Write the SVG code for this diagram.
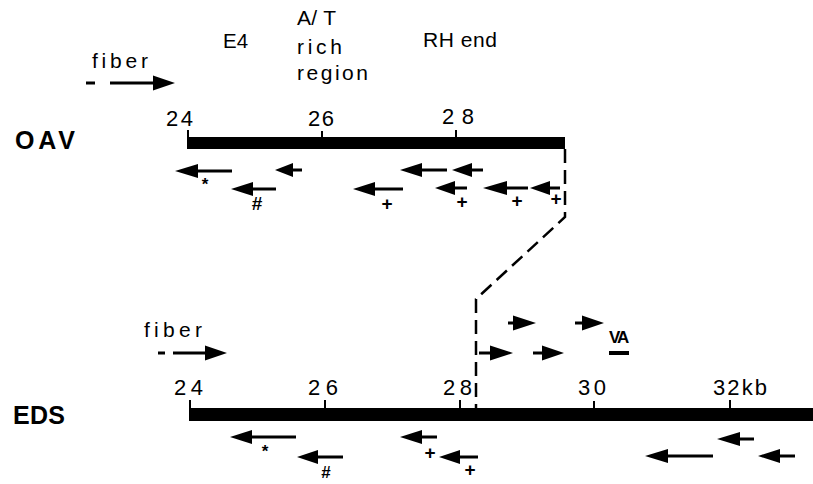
<svg xmlns="http://www.w3.org/2000/svg" width="813" height="484" viewBox="0 0 813 484">
<style>
text{font-family:"Liberation Sans",Arial,sans-serif;fill:#000}
.lbl{font-size:25px;font-weight:bold}
.num{font-size:22px}
.hdr{font-size:21px}
.mk{font-size:19px;font-weight:bold;text-anchor:middle}
.ast{font-size:17px;font-weight:bold;text-anchor:middle}
.bar{fill:#000}
.tick{stroke:#000;stroke-width:2;fill:none}
.sh{stroke:#000;stroke-width:3;fill:none}
.hd{fill:#000}
.conn{stroke:#000;stroke-width:2.5;fill:none;stroke-dasharray:14 7}
</style>
<rect width="813" height="484" fill="#fff"/>

<g id="header">
<text class="hdr" x="223" y="48" textLength="25" lengthAdjust="spacingAndGlyphs">E4</text>
<text class="hdr" x="297" y="25" textLength="39" lengthAdjust="spacing">A/ T</text>
<text class="hdr" x="297" y="54" textLength="45" lengthAdjust="spacing">rich</text>
<text class="hdr" x="297" y="80" textLength="71" lengthAdjust="spacing">region</text>
<text class="hdr" x="423" y="47" textLength="74" lengthAdjust="spacing">RH end</text>
</g>

<g id="oav-fiber">
<text class="hdr" x="92" y="68" textLength="56" lengthAdjust="spacing">fiber</text>
<path class="sh" d="M86,83 H95 M110,83 H155"/>
<polygon class="hd" points="175,83 153,75.5 153,90.5"/>
</g>

<g id="oav">
<text class="lbl" x="15" y="149" textLength="60" lengthAdjust="spacing">OAV</text>
<rect class="bar" x="187" y="137" width="378" height="12"/>
<path class="tick" d="M188,130 V138 M322,131 V138 M456,130 V138"/>
<text class="num" x="166" y="126" textLength="27" lengthAdjust="spacing">24</text>
<text class="num" x="308" y="126" textLength="26" lengthAdjust="spacing">26</text>
<text class="num" x="442" y="124" textLength="32" lengthAdjust="spacing">28</text>
</g>

<g id="oav-arrows">
<path class="sh" d="M196,171 H232 M291,170 H302 M251,189 H276 M373,189 H403 M420,170 H447 M470,170 H483 M453,188 H467 M505,188 H528 M548,188 H560"/>
<polygon class="hd" points="175,171 198,164 198,178"/>
<polygon class="hd" points="275,170 293,163 293,177"/>
<polygon class="hd" points="231,189 253,182 253,196"/>
<polygon class="hd" points="353,189 375,182 375,196"/>
<polygon class="hd" points="400,170 422,163 422,177"/>
<polygon class="hd" points="452,170 472,163 472,177"/>
<polygon class="hd" points="435,188 455,181 455,195"/>
<polygon class="hd" points="483,188 507,181 507,195"/>
<polygon class="hd" points="530,188 550,181 550,195"/>
<text class="ast" x="205" y="190">*</text>
<text class="mk" x="257" y="210">#</text>
<text class="mk" x="387" y="210">+</text>
<text class="mk" x="462" y="208">+</text>
<text class="mk" x="517" y="207">+</text>
<text class="mk" x="556" y="205">+</text>
</g>

<g id="connectors">
<path class="conn" d="M565,149 V217 L476,299 V408"/>
</g>

<g id="eds-fiber">
<text class="hdr" x="144" y="337" textLength="58" lengthAdjust="spacing">fiber</text>
<path class="sh" d="M158,353 H165 M173,353 H207"/>
<polygon class="hd" points="227,353 205,345.5 205,360.5"/>
</g>

<g id="eds-forward">
<path class="sh" d="M508,323 H515 M575,323 H584 M479,353 H492 M533,353 H544"/>
<polygon class="hd" points="536,323 513,315.5 513,330.5"/>
<polygon class="hd" points="604,323 582,315.5 582,330.5"/>
<polygon class="hd" points="513,353 490,345.5 490,360.5"/>
<polygon class="hd" points="564,353 542,345.5 542,360.5"/>
<text x="609" y="343" style="font-size:17px;font-weight:bold;letter-spacing:-2px">VA</text>
<rect class="bar" x="609" y="351" width="20" height="4"/>
</g>

<g id="eds">
<text class="lbl" x="13" y="424" textLength="52" lengthAdjust="spacing">EDS</text>
<rect class="bar" x="189" y="408" width="624" height="13"/>
<path class="tick" d="M190,400 V409 M325,400 V409 M460,400 V409 M594,401 V409 M730,400 V409"/>
<text class="num" x="174" y="395" textLength="29" lengthAdjust="spacing">24</text>
<text class="num" x="308" y="395" textLength="30" lengthAdjust="spacing">26</text>
<text class="num" x="443" y="395" textLength="29" lengthAdjust="spacing">28</text>
<text class="num" x="578" y="395" textLength="28" lengthAdjust="spacing">30</text>
<text class="num" x="713" y="395" textLength="54" lengthAdjust="spacing">32kb</text>
</g>

<g id="eds-arrows">
<path class="sh" d="M250,437 H296 M316,457 H343 M420,437 H437 M458,457 H478 M738,439 H754 M666,456 H713 M778,456 H795"/>
<polygon class="hd" points="230,437 252,430 252,444"/>
<polygon class="hd" points="297,457 318,450 318,464"/>
<polygon class="hd" points="400,437 422,430 422,444"/>
<polygon class="hd" points="439,457 460,450 460,464"/>
<polygon class="hd" points="717,439 740,432 740,446"/>
<polygon class="hd" points="645,456 668,449 668,463"/>
<polygon class="hd" points="758,456 780,449 780,463"/>
<text class="ast" x="265" y="457">*</text>
<text class="mk" x="326" y="478" style="font-size:17px">#</text>
<text class="mk" x="430" y="459">+</text>
<text class="mk" x="470" y="476">+</text>
</g>
</svg>
